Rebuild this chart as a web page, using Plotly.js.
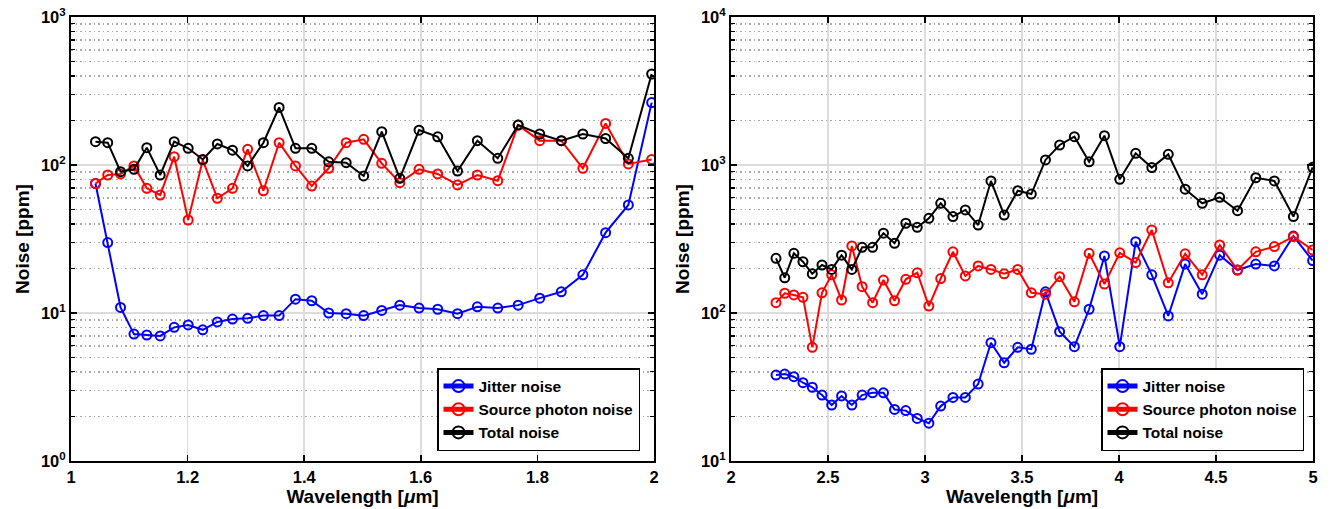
<!DOCTYPE html>
<html>
<head>
<meta charset="utf-8">
<script src="https://cdn.plot.ly/plotly-3.0.1.min.js"></script>
<style>html,body{margin:0;padding:0;background:#fff}#plot{width:1334px;height:509px}</style>
</head>
<body>
<div id="plot"></div>
<script>
// Left panel (1-2 um)
const wlLeft = [1.042,1.063,1.085,1.108,1.130,1.153,1.177,1.201,1.226,1.251,1.277,1.303,1.330,1.357,1.385,1.413,1.442,1.472,1.502,1.533,1.564,1.597,1.629,1.663,1.697,1.732,1.767,1.804,1.841,1.878,1.917,1.956,1.996];
const jitterLeft = [75,29.9,10.9,7.2,7.1,7.0,8.0,8.3,7.7,8.7,9.1,9.2,9.6,9.6,12.4,12.1,10.0,9.9,9.6,10.4,11.3,10.8,10.6,9.9,11.0,10.8,11.3,12.6,13.9,18.1,34.9,53.7,264];
const photonLeft = [75,85.6,87,98.5,69.6,62.7,113.8,42.5,108,59.6,69.6,127.7,67,141.5,98.5,72.1,95,141.5,149,102.6,75.9,93.5,87,73.3,85.6,78.3,186,146,146,95,191,101.6,109];
const totalLeft = [143.7,141.5,90.1,93.5,131,85.6,143.7,129.7,109,138.7,126,98.5,141.5,245,129.7,129.7,105,103.7,84.3,168,81.3,172,155,91,146,111,186,162,146,162,151,111,412];

// Right panel (2-5 um)
const wlRight = [2.232,2.277,2.324,2.371,2.419,2.469,2.519,2.570,2.623,2.676,2.730,2.786,2.843,2.901,2.960,3.020,3.081,3.144,3.208,3.274,3.340,3.408,3.478,3.548,3.621,3.694,3.770,3.846,3.925,4.004,4.086,4.169,4.254,4.341,4.429,4.519,4.611,4.705,4.801,4.899,4.998];
const jitterRight = [38.1,38.7,37.1,33.8,31.5,27.9,23.9,27.5,23.9,27.9,28.9,28.9,22.3,21.9,19.4,18.0,23.5,26.9,26.9,33.1,63,46.1,58.6,56.9,139,74.8,59.2,106,243,59.2,303,181,95.5,214,134,246,195,214,208,331,226];
const photonRight = [117.4,136,132.4,127.7,58.6,137,181,122.4,284,150.6,117.4,167,121,169,187,111.4,171,259,178,208,197,184,197,137,134,176,119,253,157,255,219,364,160,251,181,288,195,259,281,328,267];
const totalRight = [234,173,253,222,184,211,197,246,197,278,278,346,296,404,379,436,551,448,497,393,780,459,670,636,1082,1365,1553,1052,1578,800,1200,960,1180,686,551,605,491,820,780,448,965];

const seriesNames = ['Jitter noise','Source photon noise','Total noise'];
const seriesColors = ['#0000ff','#ff0000','#000000'];

function mk(x, y, i, xa, ya, lg) {
  return {
    x: x, y: y, type: 'scatter', mode: 'lines+markers',
    name: seriesNames[i], xaxis: xa, yaxis: ya, legend: lg,
    line: {color: seriesColors[i], width: 2},
    marker: {symbol: 'circle-open', size: 9, color: seriesColors[i], line: {width: 2, color: seriesColors[i]}}
  };
}

const traces = [
  mk(wlLeft, jitterLeft, 0, 'x', 'y', 'legend'),
  mk(wlLeft, photonLeft, 1, 'x', 'y', 'legend'),
  mk(wlLeft, totalLeft, 2, 'x', 'y', 'legend'),
  mk(wlRight, jitterRight, 0, 'x2', 'y2', 'legend2'),
  mk(wlRight, photonRight, 1, 'x2', 'y2', 'legend2'),
  mk(wlRight, totalRight, 2, 'x2', 'y2', 'legend2')
];

const FONT = 'Liberation Sans, Arial, sans-serif';
const tickFont = {family: FONT, size: 16.5, color: '#000', weight: 'bold'};
const titleFont = {family: FONT, size: 19, color: '#000', weight: 'bold'};

function xAxis(domain, range, dtick, anchor) {
  return {
    domain: domain, range: range, dtick: dtick, tick0: range[0], anchor: anchor,
    showline: true, linecolor: '#000', linewidth: 2, mirror: 'ticks',
    ticks: 'inside', ticklen: 6, tickwidth: 1.5, tickcolor: '#000',
    showgrid: true, gridcolor: '#dcdcdc', gridwidth: 1.5, zeroline: false,
    tickfont: tickFont,
    title: {text: 'Wavelength [<i>μ</i>m]', font: titleFont, standoff: 2}
  };
}
function yAxis(domain, lo, hi, anchor) {
  const vals = [], txt = [];
  for (let e = lo; e <= hi; e++) { vals.push(Math.pow(10, e)); txt.push('10<sup>' + e + '</sup>'); }
  return {
    domain: domain, type: 'log', range: [lo, hi], anchor: anchor,
    tickvals: vals, ticktext: txt,
    showline: true, linecolor: '#000', linewidth: 2, mirror: 'ticks',
    ticks: 'inside', ticklen: 6, tickwidth: 1.5, tickcolor: '#000',
    showgrid: true, gridcolor: '#dcdcdc', gridwidth: 1.5, zeroline: false,
    tickfont: tickFont,
    minor: {dtick: 'D1', showgrid: true, griddash: '1.5px,3px', gridcolor: '#aaaaaa', gridwidth: 1.5, ticks: 'inside', ticklen: 4, tickcolor: '#000', tickwidth: 1.2},
    title: {text: 'Noise [ppm]', font: titleFont, standoff: 6}
  };
}

const yDom = [1 - 461/509, 1 - 17/509];
const legendStyle = {
  bordercolor: '#000', borderwidth: 1.5, bgcolor: '#fff',
  font: {family: FONT, size: 15.5, color: '#000', weight: 'bold'},
  xanchor: 'right', yanchor: 'bottom', tracegroupgap: 0, itemsizing: 'constant',
  itemwidth: 30
};

const layout = {
  width: 1334, height: 509,
  margin: {l: 0, r: 0, t: 0, b: 0},
  paper_bgcolor: '#fff', plot_bgcolor: '#fff',
  showlegend: true,
  xaxis: xAxis([71/1334, 654/1334], [1, 2], 0.2, 'y'),
  yaxis: yAxis(yDom, 0, 3, 'x'),
  xaxis2: xAxis([731/1334, 1313/1334], [2, 5], 0.5, 'y2'),
  yaxis2: yAxis(yDom, 1, 4, 'x2'),
  legend: Object.assign({x: 640/1334, y: 1 - 451/509}, legendStyle),
  legend2: Object.assign({x: 1304/1334, y: 1 - 451/509}, legendStyle)
};

Plotly.newPlot('plot', traces, layout, {displayModeBar: false, staticPlot: true});
</script>
</body>
</html>
